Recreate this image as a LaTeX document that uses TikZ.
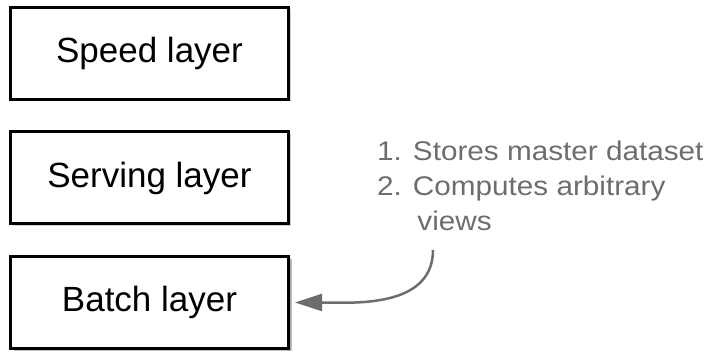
\documentclass[tikz,border=0pt]{standalone}
\usepackage{fontspec}
\setmainfont{Liberation Sans}
\newfontfamily\notefont[FakeStretch=1.1]{Liberation Sans}
\usetikzlibrary{arrows.meta,shadows}
\definecolor{notegray}{RGB}{108,110,110}

\begin{document}
\begin{tikzpicture}[x=1pt,y=1pt,
	layer/.style={draw=black, line width=3pt, fill=white, minimum width=278pt, minimum height=92pt, inner sep=0pt, font=\fontsize{35}{42}\selectfont, drop shadow={shadow xshift=2pt, shadow yshift=-2pt, opacity=0.35}},
	note/.style={text=notegray, align=left, inner sep=0pt, font=\notefont\fontsize{27}{35}\selectfont},
	pointer/.style={draw=notegray, line width=2.5pt, -{Triangle[length=27pt, width=17pt]}, shorten >=5pt}]
\useasboundingbox (0,0) rectangle (716,355);
\begin{scope}
	\node[layer] (speed) at (149.5, 301.5) {Speed layer};
	\node[layer] (serving) at (149.5, 177) {Serving layer};
	\node[layer, drop shadow={shadow xshift=3pt, shadow yshift=-3pt, opacity=0.5}] (batch) at (149.5, 52.5) {Batch layer};
	% what the batch layer does
	\node[note, anchor=north west] (note) at (377, 214) {1. Stores master dataset\\2. Computes arbitrary\\\phantom{2. }\,views};
	\coordinate (from) at (433, 105);
	\draw[pointer] (from) to[out=-90, in=0] (batch.east);
\end{scope}
\end{tikzpicture}
\end{document}
